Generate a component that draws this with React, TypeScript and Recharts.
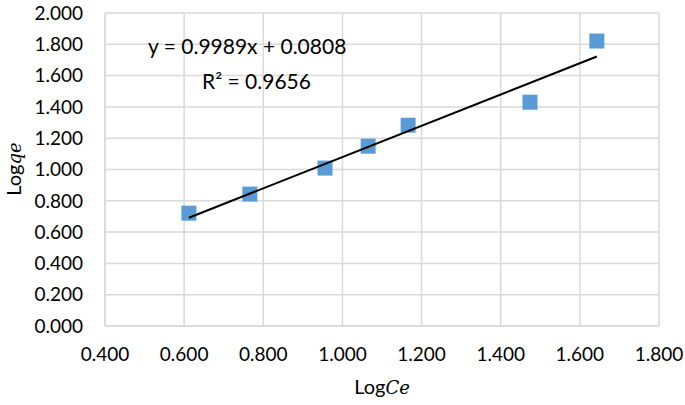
import { ScatterChart, Scatter, XAxis, YAxis, CartesianGrid } from 'recharts';

// measured points (LogCe, Logqe)
const logCe = [0.612, 0.766, 0.956, 1.065, 1.166, 1.474, 1.643];
const logQe = [0.721, 0.843, 1.009, 1.149, 1.283, 1.43, 1.821];

// linear trendline endpoints
const trendX = [0.612, 1.643];
const trendY = [0.692, 1.722];

const xTicks = [0.4, 0.6, 0.8, 1.0, 1.2, 1.4, 1.6, 1.8];
const yTicks = [0, 0.2, 0.4, 0.6, 0.8, 1.0, 1.2, 1.4, 1.6, 1.8, 2.0];

const equation = 'y = 0.9989x + 0.0808';
const rSquared = 'R² = 0.9656';

const points = logCe.map((x, i) => ({ x, y: logQe[i] }));
const trend = trendX.map((x, i) => ({ x, y: trendY[i] }));

const FONT = 'Lato, "Open Sans", sans-serif';
const GRID = '#d9d9d9';

const SquareMarker = (props: any) => {
  const { cx, cy } = props;
  if (cx == null || cy == null) return null;
  return <rect x={cx - 7.5} y={cy - 7.5} width={15} height={15} fill="#5b9bd5" />;
};

export default function App() {
  const tick = { fill: '#000', fontSize: 19, fontFamily: FONT };
  const italic = { fontFamily: '"DejaVu Serif", serif', fontStyle: 'italic', fontSize: 18 };
  return (
    <div style={{ position: 'relative', width: 685, height: 405, background: '#fff', fontFamily: FONT }}>
      <style>{'body{margin:0}'}</style>
      <ScatterChart width={685} height={405} margin={{ top: 13, right: 26, bottom: 49, left: 0 }}>
        <CartesianGrid stroke={GRID} strokeWidth={1.5} />
        <XAxis
          type="number"
          dataKey="x"
          domain={[0.4, 1.8]}
          ticks={xTicks}
          tickFormatter={(v) => v.toFixed(3)}
          tick={tick}
          height={30}
          axisLine={{ stroke: GRID, strokeWidth: 1.5 }}
          tickLine={false}
          tickSize={0}
          tickMargin={22}
          interval={0}
        />
        <YAxis
          type="number"
          dataKey="y"
          domain={[0, 2]}
          ticks={yTicks}
          tickFormatter={(v) => v.toFixed(3)}
          tick={tick}
          width={105}
          axisLine={{ stroke: GRID, strokeWidth: 1.5 }}
          tickLine={false}
          tickSize={0}
          tickMargin={22}
          interval={0}
        />
        <Scatter data={points} shape={<SquareMarker />} isAnimationActive={false} />
        <Scatter
          data={trend}
          line={{ stroke: '#000', strokeWidth: 2 }}
          shape={() => null}
          isAnimationActive={false}
        />
      </ScatterChart>
      <div style={{ position: 'absolute', left: 148, top: 28, fontSize: 21, lineHeight: '35px', whiteSpace: 'nowrap' }}>
        {equation}
      </div>
      <div style={{ position: 'absolute', left: 202, top: 63, fontSize: 21, lineHeight: '35px', whiteSpace: 'nowrap' }}>
        {rSquared}
      </div>
      <div style={{ position: 'absolute', left: 332, top: 374, width: 100, textAlign: 'center', fontSize: 20, whiteSpace: 'nowrap' }}>
        Log<span style={italic}>Ce</span>
      </div>
      <div
        style={{
          position: 'absolute',
          left: 13,
          top: 169,
          transform: 'translate(-50%, -50%) rotate(-90deg)',
          fontSize: 20,
          whiteSpace: 'nowrap',
        }}
      >
        Log<span style={italic}>qe</span>
      </div>
    </div>
  );
}
